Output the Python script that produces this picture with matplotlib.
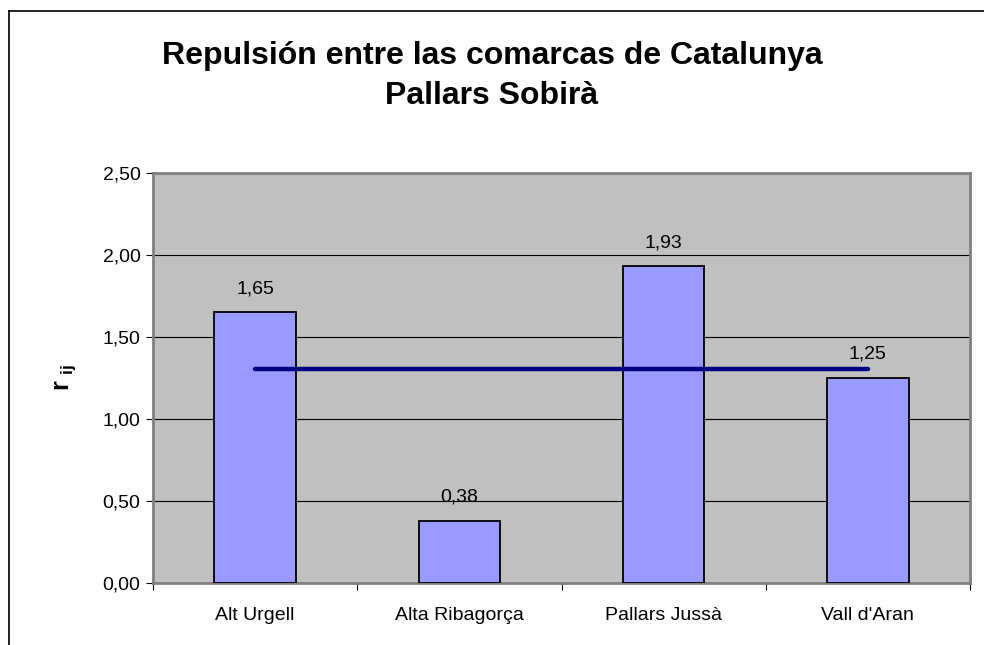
import matplotlib
matplotlib.use("Agg")
import matplotlib.pyplot as plt
from matplotlib.lines import Line2D
from matplotlib.ticker import FixedLocator, FuncFormatter

plt.rcParams["font.family"] = ["Liberation Sans", "DejaVu Sans"]
plt.rcParams["mathtext.fontset"] = "custom"
plt.rcParams["mathtext.rm"] = "Liberation Sans"
plt.rcParams["mathtext.bf"] = "Liberation Sans:bold"

# data
comarcas = ["Alt Urgell", "Alta Ribagorça", "Pallars Jussà", "Vall d'Aran"]
repulsion = [1.65, 0.38, 1.93, 1.25]
media = sum(repulsion) / len(repulsion)
yticks = [0.0, 0.5, 1.0, 1.5, 2.0, 2.5]

W, H = 984, 645
fig = plt.figure(figsize=(W / 100, H / 100), dpi=100)
ax = fig.add_axes([153 / W, 1 - 583 / H, (970 - 153) / W, (583 - 173) / H])

# outer chart border (cut off at right/bottom as in the original)
fig.add_artist(Line2D([9 / W, 1], [1 - 11 / H, 1 - 11 / H], color="black", lw=1.2,
                      transform=fig.transFigure))
fig.add_artist(Line2D([9 / W, 9 / W], [0, 1 - 11 / H], color="black", lw=1.2,
                      transform=fig.transFigure))

ax.set_facecolor("#C0C0C0")
x = list(range(len(comarcas)))
ax.bar(x, repulsion, width=0.4, color="#9999FF", edgecolor="black", linewidth=1.3, zorder=3)
ax.plot([x[0], x[-1]], [media, media], color="#000080", lw=3.2, solid_capstyle="round", zorder=4)

for xi, v in zip(x, repulsion):
    ax.annotate(f"{v:.2f}".replace(".", ","), (xi, v), xytext=(0, 17), textcoords="offset points",
                ha="center", va="center", fontsize=14)

ax.set_xlim(-0.5, len(comarcas) - 0.5)
ax.set_ylim(0, 2.5)
ax.yaxis.set_major_locator(FixedLocator(yticks))
ax.yaxis.set_major_formatter(FuncFormatter(lambda v, p: f"{v:.2f}".replace(".", ",")))
ax.grid(axis="y", color="black", lw=0.8, zorder=1)
ax.set_axisbelow(True)

ax.set_xticks(x)
ax.set_xticklabels(comarcas, fontsize=14)
ax.tick_params(axis="x", length=0, pad=17)
ax.set_xticks([i - 0.5 for i in range(len(comarcas) + 1)], minor=True)
ax.tick_params(axis="x", which="minor", length=5, color="black", width=0.8)
ax.tick_params(axis="y", length=5, width=0.8, labelsize=14, pad=4)

for side in ["top", "right", "left", "bottom"]:
    ax.spines[side].set_color("#808080")
    ax.spines[side].set_linewidth(2)

fig.text(66 / W, 1 - 377 / H, r"$\mathbf{r}$ $_{\mathbf{ij}}$", rotation=90, ha="center",
         va="center", fontsize=18)

fig.text(492 / W, 1 - 76 / H, "Repulsión entre las comarcas de Catalunya\nPallars Sobirà",
         ha="center", va="center", fontsize=23, fontweight="bold", linespacing=1.4)

fig.savefig("out.png", dpi=100)
